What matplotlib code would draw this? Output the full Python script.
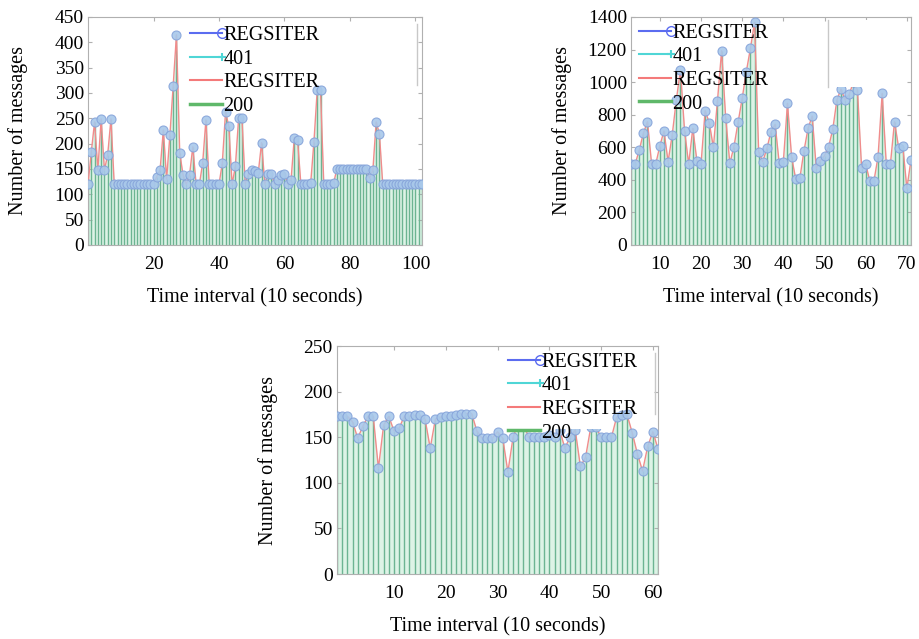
import numpy as np
import matplotlib
matplotlib.use("Agg")
import matplotlib.pyplot as plt
from matplotlib.lines import Line2D
from matplotlib.patches import Rectangle
from matplotlib.legend_handler import HandlerLine2D

plt.rcParams['font.family'] = ['Liberation Serif', 'DejaVu Serif']

# number of messages per 10 s interval
x_a = np.arange(0, 103)
msgs_a = [120, 184, 243, 148, 249, 148, 178, 249,
          120, 120, 120, 120, 120, 120, 120, 120, 120, 120, 120, 120, 120,
          135, 148, 227, 130, 217, 314, 415, 182, 139, 120,
          138, 194, 120, 120, 161, 247, 120, 120, 120, 120,
          161, 263, 234, 120, 155, 251, 251, 120, 141, 149, 147,
          143, 202, 120, 141, 141, 120, 128, 138, 141, 120,
          128, 212, 207, 120, 120, 120, 122, 204, 306, 306,
          120, 120, 120, 122,
          150, 150, 150, 150, 150, 150, 150, 150, 150, 150,
          132, 148, 243, 219,
          120, 120, 120, 120, 120, 120, 120, 120, 120, 120, 120, 120, 120]

x_b = np.arange(3, 72)
msgs_b = [497, 497, 583, 686, 757, 497, 497, 608, 700, 512, 675, 890, 1074, 702,
          497, 716, 518, 497, 825, 751, 600, 886, 1193, 778, 501, 604, 753, 900,
          1064, 1207, 1367, 573, 512, 593, 696,
          741, 501, 512, 870, 542, 405, 409, 577, 716, 792, 471, 518, 548, 604,
          710, 890, 958, 890, 925, 1000, 952, 475, 497, 393, 393, 542, 931, 497,
          497, 757, 598, 610, 348, 522]

x_c = np.arange(-1, 62)
msgs_c = [173, 173, 173, 167, 149, 162, 173, 173, 116, 163, 173, 157, 160, 173,
          173, 174, 174, 170, 138, 170, 172, 173, 173, 174, 175, 176, 176, 157,
          149, 149, 149, 156,
          149, 112, 150, 165, 165, 150, 150, 150, 150, 152, 150, 158, 138, 150,
          158, 118, 128, 161, 161, 150, 150, 150, 172, 174, 175, 155, 132, 113,
          140, 156, 137]

labels = ['REGSITER', '401', 'REGSITER', '200']


class EndMarker(HandlerLine2D):
    # matlab style legend: marker sits at the right end of the line
    def create_artists(self, *args, **kwargs):
        arts = super().create_artists(*args, **kwargs)
        for a in arts:
            if len(a.get_xdata()) == 3:
                a.set_markevery([2])
        return arts


fig = plt.figure(figsize=(9.2, 6.39), dpi=100)


def panel(rect, x, y, xlim, ylim, yticks, xticks, leg_xy, ypad, cover=None, edge=None):
    ax = fig.add_axes(rect)
    ax.fill_between(x, 0, y, color='#ddf3e6', lw=0, zorder=1)
    ax.vlines(x, 0, y, color='#6cb492', lw=1.0, zorder=2)
    ax.plot(x, y, color='#f08c8c', lw=1.0, zorder=3)
    ax.plot(x, y, 'o', ms=6.5, mfc='#a8c8ea', mec='#86a4da', mew=0.8, alpha=0.9, zorder=4)
    if cover is not None:
        ax.add_patch(Rectangle(cover[:2], cover[2], cover[3], transform=ax.transAxes,
                               facecolor='white', edgecolor='none', zorder=5))
    if edge is not None:
        ax.plot([edge[0], edge[0]], edge[1:], transform=ax.transAxes,
                color='#c8c8c8', lw=1.0, zorder=5)
    ax.set_xlim(xlim)
    ax.set_ylim(ylim)
    ax.set_yticks(yticks)
    ax.set_xticks(xticks)
    ax.tick_params(direction='in', top=True, right=True, length=3, color='#b0b0b0',
                   labelsize=14, pad=3)
    ax.tick_params(axis='x', pad=8)
    for s in ax.spines.values():
        s.set_color('#b0b0b0')
    ax.set_xlabel('Time interval (10 seconds)', fontsize=14.5, labelpad=11)
    ax.set_ylabel('Number of messages', fontsize=14.5, labelpad=ypad)
    handles = [Line2D([], [], color='#5b6cf0', marker='o', mfc='none', mec='#5b6cf0', ms=7),
               Line2D([], [], color='#4fd6d6', marker='+', ms=6, mew=1.5),
               Line2D([], [], color='#f47a7a', lw=1.5),
               Line2D([], [], color='#5fb86a', lw=2.5)]
    leg = ax.legend(handles, labels, loc='upper left', bbox_to_anchor=leg_xy, frameon=False,
                    fontsize=14.5, handlelength=1.6, handletextpad=0.05, labelspacing=0.22,
                    borderpad=0, borderaxespad=0, handler_map={Line2D: EndMarker(numpoints=1)})
    leg.set_zorder(6)
    return ax


panel([0.0957, 0.6166, 0.363, 0.3568], x_a, msgs_a, (0, 102), (0, 450),
      np.arange(0, 451, 50), [20, 40, 60, 80, 100], (0.305, 0.96), 19,
      edge=(0.985, 0.70, 0.97))
panel([0.6859, 0.6166, 0.3043, 0.3568], x_b, msgs_b, (3, 71), (0, 1400),
      np.arange(0, 1401, 200), [10, 20, 30, 40, 50, 60, 70], (0.029, 0.97), 11,
      cover=(0.704, 0.693, 0.278, 0.294), edge=(0.704, 0.693, 0.985))
panel([0.3663, 0.1017, 0.349, 0.3568], x_c, msgs_c, (-1, 61), (0, 250),
      np.arange(0, 251, 50), [10, 20, 30, 40, 50, 60], (0.533, 0.97), 18,
      cover=(0.53, 0.635, 0.32, 0.345), edge=(0.99, 0.70, 0.97))

fig.savefig('out.png', dpi=100, facecolor='white')
